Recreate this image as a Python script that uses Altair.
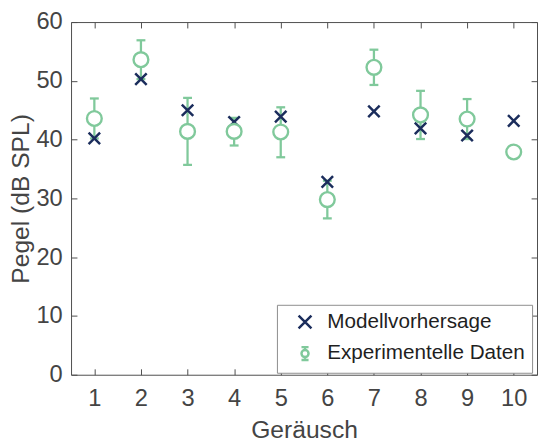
import altair as alt
import pandas as pd

# ---- data ----
noise = [1, 2, 3, 4, 5, 6, 7, 8, 9, 10]
model = [40.2, 50.3, 45.0, 43.0, 43.9, 32.8, 44.8, 41.9, 40.7, 43.2]
exp_mean = [43.6, 53.6, 41.4, 41.4, 41.3, 29.8, 52.3, 44.2, 43.5, 37.9]
exp_lo = [40.2, 50.3, 35.7, 39.0, 37.0, 26.6, 49.3, 40.1, 40.1, 37.5]
exp_hi = [47.0, 56.9, 47.1, 43.7, 45.5, 33.0, 55.3, 48.3, 46.9, 38.3]
series = ["Modellvorhersage", "Experimentelle Daten"]
y_ticks = [0, 10, 20, 30, 40, 50, 60]

NAVY = "#1b2d5c"
GREEN = "#80c99b"
AX = "#4d4d4d"
TXT = "#444444"
FONT = "Liberation Sans"

X_PATH = "M-1,-1L1,1M-1,1L1,-1"
GLYPH = ("M0,-1L0,-0.55M0,0.55L0,1M-0.55,-1L0.55,-1M-0.55,1L0.55,1"
         "M0.55,0A0.55,0.55 0 1 1 -0.55,0A0.55,0.55 0 1 1 0.55,0")

df = pd.DataFrame({"n": noise, "model": model, "mean": exp_mean,
                   "lo": exp_lo, "hi": exp_hi})
legend_df = pd.DataFrame({"n": [1, 1], "v": [0, 0], "serie": series})

xscale = alt.Scale(domain=[0.5, 10.5], nice=False, zero=False)
yscale = alt.Scale(domain=[0, 60], nice=False, zero=False)

# ticks drawn inward: each axis is pulled 6px into the plot, ticks reach the frame
common = dict(grid=False, domain=False, tickColor=AX, tickWidth=1, tickSize=6,
              offset=-6)

x_axis = alt.Axis(values=noise, title="Geräusch", format="d", labelAngle=0,
                  labelPadding=12, labelFont=FONT, labelFontSize=24, labelColor=TXT,
                  titleFont=FONT, titleFontSize=25, titleFontWeight="normal",
                  titleColor=TXT, titleX=236.5, titleY=69.5,
                  titleBaseline="alphabetic", titleAlign="center", **common)
y_axis = alt.Axis(values=y_ticks, title="Pegel (dB SPL)", format="d",
                  labelPadding=9, labelFont=FONT, labelFontSize=24, labelColor=TXT,
                  titleFont=FONT, titleFontSize=25, titleFontWeight="normal",
                  titleColor=TXT, titleAngle=270, titleX=-49, titleY=179,
                  titleBaseline="alphabetic", titleAlign="center", **common)
top_axis = alt.Axis(orient="top", values=noise, labels=False, title=None, **common)
right_axis = alt.Axis(orient="right", values=y_ticks, labels=False, title=None, **common)

legend = alt.Legend(title=None, orient="none", legendX=209, legendY=287,
                    padding=7, rowPadding=7, symbolSize=170, symbolStrokeWidth=2.5,
                    symbolOffset=11, labelOffset=12, labelFont=FONT,
                    labelFontSize=21, labelColor="#1f1f1f", labelLimit=400,
                    strokeColor="#8c8c8c", fillColor="white", cornerRadius=0)

rules = alt.Chart(df).mark_rule(color=GREEN, strokeWidth=2.3).encode(
    x=alt.X("n:Q", scale=xscale, axis=x_axis),
    y=alt.Y("lo:Q", scale=yscale, axis=y_axis),
    y2="hi:Q",
)
caps_hi = alt.Chart(df).mark_tick(color=GREEN, orient="horizontal", size=9,
                                  thickness=2.3, opacity=1).encode(
    x=alt.X("n:Q", scale=xscale, axis=None),
    y=alt.Y("hi:Q", scale=yscale, axis=None),
)
caps_lo = alt.Chart(df).mark_tick(color=GREEN, orient="horizontal", size=9,
                                  thickness=2.3, opacity=1).encode(
    x=alt.X("n:Q", scale=xscale, axis=None),
    y=alt.Y("lo:Q", scale=yscale, axis=None),
)
model_pts = alt.Chart(df).mark_point(shape=X_PATH, size=135, strokeWidth=2.5,
                                     color=NAVY, opacity=1).encode(
    x=alt.X("n:Q", scale=xscale, axis=None),
    y=alt.Y("model:Q", scale=yscale, axis=None),
)
circles = alt.Chart(df).mark_point(shape="circle", size=225, filled=False,
                                   fill="white", stroke=GREEN, strokeWidth=2.4,
                                   opacity=1).encode(
    x=alt.X("n:Q", scale=xscale, axis=None),
    y=alt.Y("mean:Q", scale=yscale, axis=None),
)
legend_layer = alt.Chart(legend_df).mark_point(size=0, opacity=1).encode(
    x=alt.X("n:Q", scale=xscale, axis=top_axis),
    y=alt.Y("v:Q", scale=yscale, axis=right_axis),
    shape=alt.Shape("serie:N", scale=alt.Scale(domain=series, range=[X_PATH, GLYPH]),
                    legend=legend),
    color=alt.Color("serie:N", scale=alt.Scale(domain=series, range=[NAVY, GREEN]),
                    legend=legend),
)

chart = alt.layer(rules, caps_hi, caps_lo, model_pts, circles, legend_layer).resolve_axis(
    x="independent", y="independent"
).properties(
    width=473, height=358,
    padding={"left": 64, "top": 11, "right": 1, "bottom": 65},
    autosize=alt.AutoSizeParams(type="none"),
    background="white",
).configure_view(stroke=AX, strokeWidth=1)

chart.save("out.html", embed_options={"renderer": "svg", "actions": False})
